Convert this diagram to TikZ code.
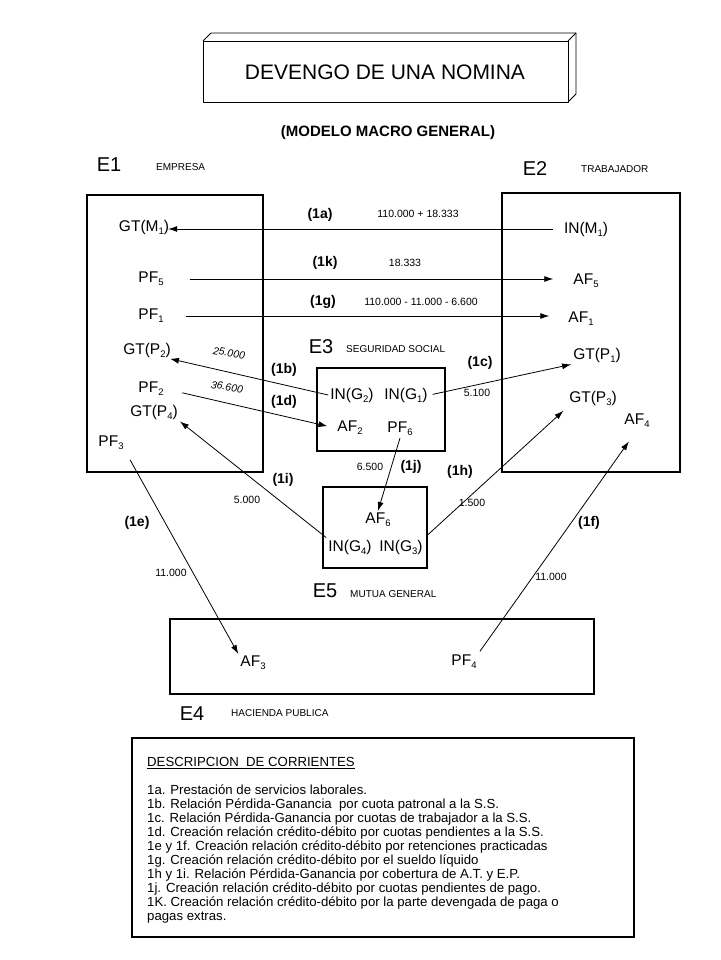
\documentclass[tikz,border=0pt]{standalone}
\usepackage{fontspec}
\setmainfont{Liberation Sans}
\usetikzlibrary{arrows.meta}
\newcommand{\sbs}[1]{\raisebox{-3pt}{\fontsize{9.5}{10}\selectfont #1}}
\begin{document}
\begin{tikzpicture}[x=1pt,y=-1pt,
  lab/.style={font=\fontsize{15.5}{17}\selectfont, inner sep=2pt},
  ent/.style={font=\fontsize{20}{22}\selectfont, inner sep=0pt},
  entname/.style={font=\fontsize{10}{11}\selectfont, inner sep=0pt, anchor=west},
  flow/.style={font=\bfseries\fontsize{14}{15}\selectfont, inner sep=0pt},
  num/.style={font=\fontsize{10.5}{11}\selectfont, inner sep=0pt},
  inum/.style={font=\itshape\fontsize{10.5}{11}\selectfont, inner sep=0pt, rotate=-9},
  frame/.style={draw, line width=2.2pt},
  tbox/.style={line width=0.9pt, line join=round},
  arr/.style={-{Latex[length=9pt,width=6pt]}, line width=0.8pt}]
\useasboundingbox (0,0) rectangle (720,960);

% title block
\draw[tbox] (203,41) rectangle (568,102);
\draw[tbox] (203,41) -- (211,33) -- (576,33) -- (576,94) -- (568,102);
\draw[tbox] (568,41) -- (576,33);
\node[font=\fontsize{21}{24}\selectfont, inner sep=0pt] (title) at (385,72) {DEVENGO DE UNA NOMINA};
\node[font=\bfseries\fontsize{15}{17}\selectfont, inner sep=0pt] (modelo) at (388,133) {(MODELO MACRO GENERAL)};

% entity boxes
\draw[frame] (87,195) rectangle (263,472);
\draw[frame] (502,193) rectangle (680,472);
\draw[frame] (317,368) rectangle (445,451);
\draw[frame] (323,487) rectangle (427,568);
\draw[frame] (170,619) rectangle (594,694);
\draw[line width=1.2pt] (132,738) rectangle (634,937);

% entity names
\node[ent] (e1) at (109,165) {E1};
\node[entname] (e1n) at (156,167) {EMPRESA};
\node[ent] (e2) at (535,169) {E2};
\node[entname] (e2n) at (581,169) {TRABAJADOR};
\node[ent] (e3) at (321,347) {E3};
\node[entname] (e3n) at (346,349) {SEGURIDAD SOCIAL};
\node[ent] (e5) at (325,591) {E5};
\node[entname] (e5n) at (350,594) {MUTUA GENERAL};
\node[ent] (e4) at (192,714) {E4};
\node[entname] (e4n) at (231,713) {HACIENDA PUBLICA};

% E1 contents
\node[lab] (gtm1) at (144,227) {GT(M\sbs{1})};
\node[lab] (pf5) at (151,279) {PF\sbs{5}};
\node[lab] (pf1) at (151,316) {PF\sbs{1}};
\node[lab] (gtp2) at (147,350) {GT(P\sbs{2})};
\node[lab] (pf2) at (151,389) {PF\sbs{2}};
\node[lab] (gtp4) at (154,412) {GT(P\sbs{4})};
\node[lab] (pf3) at (111,443) {PF\sbs{3}};

% E2 contents
\node[lab] (inm1) at (586,229) {IN(M\sbs{1})};
\node[lab] (af5) at (586,281) {AF\sbs{5}};
\node[lab] (af1) at (581,319) {AF\sbs{1}};
\node[lab] (gtp1) at (597,355) {GT(P\sbs{1})};
\node[lab] (gtp3) at (593,398) {GT(P\sbs{3})};
\node[lab] (af4) at (637,421) {AF\sbs{4}};

% E3 contents
\node[lab] (ing2) at (352,395) {IN(G\sbs{2})};
\node[lab] (ing1) at (406,395) {IN(G\sbs{1})};
\node[lab] (af2) at (350,428) {AF\sbs{2}};
\node[lab] (pf6) at (400,429) {PF\sbs{6}};

% E5 contents
\node[lab] (af6) at (378,520) {AF\sbs{6}};
\node[lab] (ing4) at (350,547) {IN(G\sbs{4})};
\node[lab] (ing3) at (401,547) {IN(G\sbs{3})};

% E4 contents
\node[lab] (af3) at (253,663) {AF\sbs{3}};
\node[lab] (pf4) at (464,662) {PF\sbs{4}};

% connectors
\draw[arr, shorten <=9pt, shorten >=-3pt] (inm1.west) -- (inm1.west -| gtm1.east);
\draw[arr, shorten <=24pt, shorten >=18pt] (pf5.east) -- (pf5.east -| af5.west);
\draw[arr, shorten <=20pt, shorten >=17pt] (pf1.east) -- (pf1.east -| af1.west);
\draw[arr, shorten >=-3pt] (ing2.west) -- (gtp2.south east);
\draw[arr, shorten <=17pt, shorten >=8pt] (pf2.east) -- (af2.west);
\draw[arr, shorten <=3pt] (ing1.east) -- (gtp1.south west);
\draw[arr] (pf6.south) -- (af6.north);
\draw[arr] (ing4.north west) -- (gtp4.south east);
\draw[arr, shorten <=2pt, shorten >=5pt] (ing3.north east) -- (gtp3.south west);
\draw[arr, shorten <=9pt] (pf3.south east) -- (af3.north west);
\draw[arr, shorten <=2pt, shorten >=14pt] (pf4.north east) -- (af4.south);

% flow labels
\node[flow] (l1a) at (320,215) {(1a)};
\node[num] (n1a) at (418,214) {110.000 + 18.333};
\node[flow] (l1k) at (325,263) {(1k)};
\node[num] (n1k) at (405,263) {18.333};
\node[flow] (l1g) at (323,302) {(1g)};
\node[num] (n1g) at (421,302) {110.000 - 11.000 - 6.600};
\node[flow] (l1b) at (284,370) {(1b)};
\node[inum] (n1b) at (229,353) {25.000};
\node[flow] (l1d) at (284,402) {(1d)};
\node[inum] (n1d) at (227,387) {36.600};
\node[flow] (l1c) at (480,363) {(1c)};
\node[num] (n1c) at (477,393) {5.100};
\node[num] (n1j) at (370,467) {6.500};
\node[flow] (l1j) at (411,467) {(1j)};
\node[flow] (l1h) at (460,472) {(1h)};
\node[num] (n1h) at (472,503) {1.500};
\node[flow] (l1i) at (283,480) {(1i)};
\node[num] (n1i) at (247,500) {5.000};
\node[flow] (l1e) at (137,523) {(1e)};
\node[num] (n1e) at (171,573) {11.000};
\node[flow] (l1f) at (589,523) {(1f)};
\node[num] (n1f) at (551,577) {11.000};

% description
\node[anchor=north west, align=left, inner sep=0pt, font=\fontsize{13.2}{14}\selectfont] (desc) at (147,757) {%
\underline{DESCRIPCION\ \ DE CORRIENTES}\\[14pt]
1a. Prestación de servicios laborales.\\
1b. Relación Pérdida-Ganancia\ \ por cuota patronal a la S.S.\\
1c. Relación Pérdida-Ganancia por cuotas de trabajador a la S.S.\\
1d. Creación relación crédito-débito por cuotas pendientes a la S.S.\\
1e y 1f. Creación relación crédito-débito por retenciones practicadas\\
1g. Creación relación crédito-débito por el sueldo líquido\\
1h y 1i. Relación Pérdida-Ganancia por cobertura de A.T. y E.P.\\
1j. Creación relación crédito-débito por cuotas pendientes de pago.\\
1K. Creación relación crédito-débito por la parte devengada de paga o\\
pagas extras.};
\end{tikzpicture}
\end{document}
